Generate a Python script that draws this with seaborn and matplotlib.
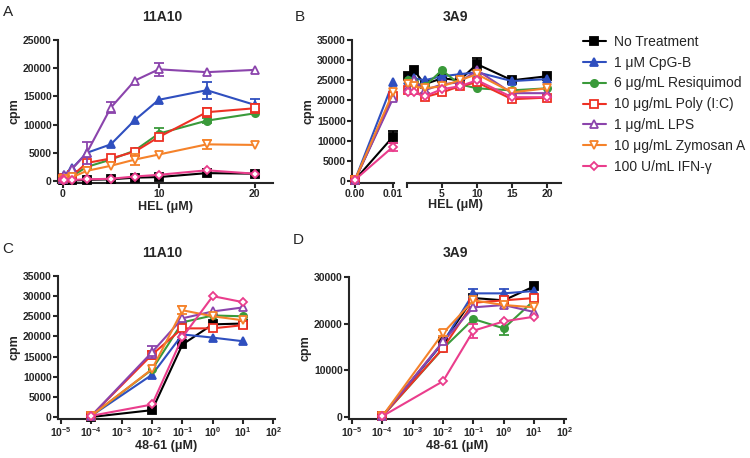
import numpy as np
import pandas as pd
import seaborn as sns
import matplotlib.pyplot as plt

# treatments (legend order)
treatments = ['No Treatment', '1 \u03bcM CpG-B', '6 \u03bcg/mL Resiquimod', '10 \u03bcg/mL Poly (I:C)',
              '1 \u03bcg/mL LPS', '10 \u03bcg/mL Zymosan A', '100 U/mL IFN-\u03b3']
colors = ['#000000', '#2f4fbf', '#3a9a3a', '#ee3124', '#8b44ac', '#f5822a', '#ea3d8c']
markers = ['s', '^', 'o', 's', '^', 'v', 'D']
filled = [True, True, True, False, False, False, False]

# HEL concentrations (uM)
hel = [0, 0.01, 0.1, 1, 2.5, 5, 7.5, 10, 15, 20]
# peptide 48-61 concentrations (uM)
pep = [1e-4, 1e-2, 1e-1, 1, 10]

# panel A: 11A10 vs HEL
a_none = [300, 200, 100, 100, 200, 300, 600, 700, 1400, 1300]
a_cpg = [300, 400, 1000, 2300, 5000, 6500, 10800, 14400, 16100, 13500]
a_resiq = [300, 300, 500, 900, 2500, 3800, 5400, 8400, 10700, 12000]
a_poly = [300, 300, 500, 1000, 3200, 4000, 5200, 7800, 12200, 12900]
a_lps = [300, 400, 1000, 2200, 5000, 13000, 17800, 19800, 19300, 19700]
a_zym = [300, 200, 300, 700, 1800, 2700, 3800, 4700, 6500, 6400]
a_ifn = [300, 200, 150, 200, 300, 400, 800, 1100, 1900, 1300]
a_err = {'1 \u03bcM CpG-B': [0, 0, 0, 0, 0, 0, 0, 0, 1500, 1000],
         '6 \u03bcg/mL Resiquimod': [0, 0, 0, 0, 0, 0, 0, 1000, 500, 0],
         '10 \u03bcg/mL Poly (I:C)': [0, 0, 0, 0, 0, 0, 0, 0, 800, 800],
         '1 \u03bcg/mL LPS': [0, 0, 0, 0, 2000, 1000, 0, 1200, 0, 0],
         '10 \u03bcg/mL Zymosan A': [0, 0, 0, 0, 0, 0, 1000, 0, 800, 0]}

# panel B: 3A9 vs HEL
b_none = [300, 11000, 26000, 27500, 24000, 25500, 25000, 29000, 25000, 26000]
b_cpg = [300, 24500, 25000, 25500, 25000, 26000, 26500, 27000, 24800, 25300]
b_resiq = [300, 21000, 25000, 24500, 23500, 27500, 24000, 23000, 22500, 23000]
b_poly = [300, 21000, 22500, 22500, 20800, 22000, 23500, 24500, 20300, 20700]
b_lps = [300, 20500, 23000, 25000, 22500, 24000, 24500, 27500, 21800, 21800]
b_zym = [300, 22000, 24000, 23500, 23000, 23500, 25000, 26500, 22000, 23000]
b_ifn = [300, 8500, 22000, 22000, 21000, 22800, 23500, 25000, 20800, 20800]
b_err = {'No Treatment': [0, 1500, 0, 0, 0, 0, 0, 1500, 0, 0],
         '100 U/mL IFN-\u03b3': [0, 1000, 0, 0, 0, 0, 0, 0, 0, 0]}

# panel C: 11A10 vs 48-61
c_none = [0, 1700, 18000, 23000, 23200]
c_cpg = [300, 10500, 20500, 19700, 18800]
c_resiq = [300, 11800, 23500, 25200, 25000]
c_poly = [300, 15500, 22000, 22000, 22800]
c_lps = [300, 16100, 24500, 26200, 27200]
c_zym = [300, 11900, 26500, 25000, 24000]
c_ifn = [300, 3100, 19800, 30000, 28500]
c_err = {'1 \u03bcg/mL LPS': [0, 1500, 0, 0, 0],
         '10 \u03bcg/mL Poly (I:C)': [0, 1000, 0, 0, 0],
         '10 \u03bcg/mL Zymosan A': [0, 0, 1000, 0, 0]}

# panel D: 3A9 vs 48-61
d_none = [200, 16000, 25500, 25000, 28000]
d_cpg = [200, 16000, 26500, 26500, 27000]
d_resiq = [200, 14700, 21000, 19000, 25000]
d_poly = [200, 14800, 24500, 25000, 25500]
d_lps = [200, 16200, 23500, 24000, 22500]
d_zym = [200, 18000, 25000, 24000, 23500]
d_ifn = [200, 7700, 18500, 20500, 21500]
d_err = {'1 \u03bcM CpG-B': [0, 0, 1000, 1000, 0],
         '6 \u03bcg/mL Resiquimod': [0, 0, 0, 1500, 0],
         '100 U/mL IFN-\u03b3': [0, 0, 1500, 0, 0],
         '10 \u03bcg/mL Zymosan A': [0, 700, 0, 0, 0]}

log_ticks = [1e-5, 1e-4, 1e-3, 1e-2, 1e-1, 1e0, 1e1, 1e2]
log_labels = ['$\\mathbf{10^{-5}}$', '$\\mathbf{10^{-4}}$', '$\\mathbf{10^{-3}}$', '$\\mathbf{10^{-2}}$',
              '$\\mathbf{10^{-1}}$', '$\\mathbf{10^{0}}$', '$\\mathbf{10^{1}}$', '$\\mathbf{10^{2}}$']

sns.set_style("ticks")
plt.rcParams['font.family'] = ['Liberation Sans', 'DejaVu Sans']
plt.rcParams['mathtext.fontset'] = 'custom'
plt.rcParams['mathtext.bf'] = 'Liberation Sans:bold'
plt.rcParams['mathtext.rm'] = 'Liberation Sans'


def draw(ax, x, series, errs, keep=None):
    handles = []
    for i, name in enumerate(treatments):
        xs = np.array(x, dtype=float)
        ys = np.array(series[i], dtype=float)
        es = np.array(errs.get(name, [0] * len(xs)), dtype=float)
        if keep is not None:
            m = keep(xs)
            xs, ys, es = xs[m], ys[m], es[m]
        sel = es > 0
        if sel.any():
            ax.errorbar(xs[sel], ys[sel], yerr=es[sel], fmt='none', ecolor=colors[i],
                        elinewidth=1.3, capsize=3.5, capthick=1.3, zorder=2 + i, clip_on=False)
        sns.lineplot(x=xs, y=ys, ax=ax, color=colors[i], marker=markers[i],
                     markersize=5.2 if markers[i] != 'D' else 4.5,
                     markerfacecolor=colors[i] if filled[i] else 'white', markeredgecolor=colors[i],
                     markeredgewidth=1.3, linewidth=1.5, errorbar=None, legend=False,
                     zorder=3 + i, clip_on=False)
        handles.append(ax.lines[-1])
    return handles


def style(ax):
    sns.despine(ax=ax)
    for s in ['left', 'bottom']:
        ax.spines[s].set_linewidth(1.5)
    ax.tick_params(width=1.5, length=3.5, labelsize=7.5, pad=1)
    for t in ax.get_xticklabels() + ax.get_yticklabels():
        t.set_fontweight('bold')
    ax.set_xlabel(ax.get_xlabel(), fontsize=9, fontweight='bold', labelpad=1)
    ax.set_ylabel(ax.get_ylabel(), fontsize=9, fontweight='bold', labelpad=2)


fig = plt.figure(figsize=(7.5, 4.58), dpi=100)
W, H = 750, 458


def box(l, r, t, b):
    return [l / W, 1 - b / H, (r - l) / W, (b - t) / H]


# Panel A
axA = fig.add_axes(box(58, 273, 40, 183))
hA = draw(axA, hel, [a_none, a_cpg, a_resiq, a_poly, a_lps, a_zym, a_ifn], a_err)
axA.set_xlim(-0.5, 21.9)
axA.set_ylim(-350, 25000)
axA.set_xticks([0, 10, 20])
axA.set_yticks([0, 5000, 10000, 15000, 20000, 25000])
axA.set_xlabel('HEL (\u03bcM)')
axA.set_ylabel('cpm')
style(axA)

# Panel B (broken x axis)
axB1 = fig.add_axes(box(352, 394, 40, 183))
axB2 = fig.add_axes(box(407, 561, 40, 183), sharey=axB1)
bser = [b_none, b_cpg, b_resiq, b_poly, b_lps, b_zym, b_ifn]
draw(axB1, hel, bser, b_err, keep=lambda v: v <= 0.01)
draw(axB2, hel, bser, b_err, keep=lambda v: v > 0.01)
axB1.set_xlim(-0.0008, 0.01026)
axB1.set_ylim(-500, 35000)
axB1.set_xticks([0, 0.01])
axB1.set_xticklabels(['0.00', '0.01'])
axB1.set_yticks(np.arange(0, 35001, 5000))
axB1.set_ylabel('cpm')
axB1.set_xlabel('')
style(axB1)
axB2.set_xlim(0, 22)
axB2.set_xticks([0, 5, 10, 15, 20])
axB2.set_xticklabels(['', '5', '10', '15', '20'])
axB2.set_xlabel('')
axB2.set_ylabel('')
style(axB2)
axB2.spines['left'].set_visible(False)
axB2.tick_params(axis='y', left=False, labelleft=False)
fig.text(456 / W, 1 - 205 / H, 'HEL (\u03bcM)', ha='center', va='center', fontsize=9, fontweight='bold')

# Panel C
axC = fig.add_axes(box(58, 275, 276, 419))
draw(axC, pep, [c_none, c_cpg, c_resiq, c_poly, c_lps, c_zym, c_ifn], c_err)
axC.set_xscale('log')
axC.set_xlim(10 ** -5.1, 10 ** 2.05)
axC.set_ylim(-500, 35000)
axC.set_xticks(log_ticks)
axC.set_xticklabels(log_labels)
axC.minorticks_off()
axC.set_yticks(np.arange(0, 35001, 5000))
axC.set_xlabel('48-61 (\u03bcM)')
axC.set_ylabel('cpm')
style(axC)

# Panel D
axD = fig.add_axes(box(349, 566, 277, 419))
draw(axD, pep, [d_none, d_cpg, d_resiq, d_poly, d_lps, d_zym, d_ifn], d_err)
axD.set_xscale('log')
axD.set_xlim(10 ** -5.1, 10 ** 2.05)
axD.set_ylim(-400, 30000)
axD.set_xticks(log_ticks)
axD.set_xticklabels(log_labels)
axD.minorticks_off()
axD.set_yticks([0, 10000, 20000, 30000])
axD.set_xlabel('48-61 (\u03bcM)')
axD.set_ylabel('cpm')
style(axD)

# titles and panel letters
for txt, x, y in [('11A10', 162, 17), ('3A9', 455, 17), ('11A10', 162, 253), ('3A9', 455, 253)]:
    fig.text(x / W, 1 - y / H, txt, ha='center', va='center', fontsize=10, fontweight='bold')
for txt, x, y in [('A', 8, 12), ('B', 300, 17), ('C', 8, 249), ('D', 298, 240)]:
    fig.text(x / W, 1 - y / H, txt, ha='center', va='center', fontsize=11)

fig.legend(hA, treatments, loc='upper left', bbox_to_anchor=(577 / W, 1 - 29 / H), frameon=False,
           fontsize=10, handlelength=1.7, labelspacing=0.5, handletextpad=0.6, borderaxespad=0)

plt.savefig('out.png', dpi=100)
